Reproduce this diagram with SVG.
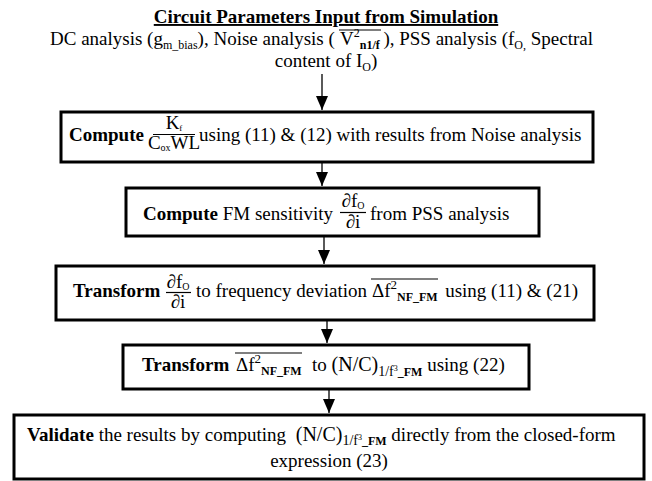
<svg xmlns="http://www.w3.org/2000/svg" width="652" height="481" viewBox="0 0 652 481">
<style>
text{font-family:"Liberation Serif","Times New Roman",serif;font-size:19px;fill:#000}
.b{font-weight:bold}
.box{fill:#fff;stroke:#000;stroke-width:3}
.ln{stroke:#000;stroke-width:1.2}
.conn line{stroke:#000;stroke-width:1.3;marker-end:url(#ah)}
</style>
<defs>
<marker id="ah" markerUnits="userSpaceOnUse" markerWidth="14" markerHeight="12" refX="14" refY="6" orient="auto">
<path d="M0,0 L14,6 L0,12 z" fill="#000"/>
</marker>
</defs>
<rect width="652" height="481" fill="#fff"/>

<g id="header">
<text x="326" y="23" class="b" text-anchor="middle" text-decoration="underline">Circuit Parameters Input from Simulation</text>
<text x="50" y="45" font-size="18.5">DC analysis (g<tspan font-size="12" dy="4">m_bias</tspan><tspan dy="-4">), Noise analysis (</tspan></text>
<text x="340" y="45" font-size="18">V<tspan font-size="12" dy="-8">2</tspan><tspan font-size="12" font-weight="bold" dy="12">n1/f</tspan></text>
<line class="ln" x1="339" y1="30" x2="381" y2="30"/>
<text x="593" y="45" text-anchor="end" font-size="18.5"> ), PSS analysis (f<tspan font-size="12" dy="4">O,</tspan><tspan dy="-4"> Spectral</tspan></text>
<text x="326" y="67" text-anchor="middle">content of I<tspan font-size="12" dy="4">O</tspan><tspan dy="-4">)</tspan></text>
</g>

<g id="n1">
<rect class="box" x="61" y="112" width="532" height="50"/>
<text x="69" y="141" class="b">Compute</text>
<text x="174" y="129" text-anchor="middle" font-size="13">K<tspan font-size="9" dy="2">f</tspan></text>
<line class="ln" x1="153" y1="134.5" x2="195" y2="134.5" stroke-width="1"/>
<text x="174" y="149" text-anchor="middle" font-size="13">C<tspan font-size="10" dy="2">ox</tspan><tspan dy="-2">WL</tspan></text>
<text x="199" y="141">using (11) &amp; (12) with results from Noise analysis</text>
</g>

<g id="n2">
<rect class="box" x="126" y="188" width="413" height="48"/>
<text x="143" y="220"><tspan class="b">Compute</tspan> FM sensitivity</text>
<text x="353" y="207" text-anchor="middle" font-size="15">∂f<tspan font-size="10" dy="2">O</tspan></text>
<line class="ln" x1="340" y1="212.5" x2="366" y2="212.5" stroke-width="1"/>
<text x="353" y="228" text-anchor="middle" font-size="15">∂i</text>
<text x="370" y="220">from PSS analysis</text>
</g>

<g id="n3">
<rect class="box" x="56" y="266" width="538" height="54"/>
<text x="73" y="297" class="b">Transform</text>
<text x="178" y="288" text-anchor="middle" font-size="15">∂f<tspan font-size="10" dy="2">O</tspan></text>
<line class="ln" x1="166" y1="292.5" x2="191" y2="292.5" stroke-width="1"/>
<text x="178" y="308" text-anchor="middle" font-size="15">∂i</text>
<text x="196" y="297">to frequency deviation</text>
<text x="372" y="297">Δf<tspan font-size="13" dy="-8">2</tspan><tspan font-size="12" font-weight="bold" dy="12">NF_FM</tspan></text>
<line class="ln" x1="371" y1="279" x2="438" y2="279"/>
<text x="578" y="297" text-anchor="end">using (11) &amp; (21)</text>
</g>

<g id="n4">
<rect class="box" x="123" y="345" width="406" height="44"/>
<text x="142" y="371" class="b">Transform</text>
<text x="236" y="371">Δf<tspan font-size="13" dy="-8">2</tspan><tspan font-size="12" font-weight="bold" dy="12">NF_FM</tspan></text>
<line class="ln" x1="235" y1="353" x2="302" y2="353"/>
<text x="312" y="371">to <tspan font-size="20">(N/C)</tspan><tspan font-size="14" dy="5">1/f</tspan><tspan font-size="8" dy="-5">3</tspan><tspan font-size="12" font-weight="bold" dy="5">_FM</tspan><tspan dy="-5"> using (22)</tspan></text>
</g>

<g id="n5">
<rect class="box" x="14" y="415" width="630" height="64"/>
<text x="27" y="441"><tspan class="b">Validate</tspan> the results by computing <tspan dx="5" font-size="20">(N/C)</tspan><tspan font-size="14" dy="4">1/f</tspan><tspan font-size="8" dy="-5">3</tspan><tspan font-size="12" font-weight="bold" dy="5">_FM</tspan><tspan dy="-4"> directly from the closed-form</tspan></text>
<text x="329" y="467" text-anchor="middle">expression (23)</text>
</g>

<g class="conn" id="connectors">
<line x1="322" y1="74" x2="322" y2="110"/>
<line x1="322" y1="163" x2="322" y2="186"/>
<line x1="324" y1="237" x2="324" y2="264"/>
<line x1="327" y1="321" x2="327" y2="343"/>
<line x1="329" y1="390" x2="329" y2="413"/>
</g>
</svg>
